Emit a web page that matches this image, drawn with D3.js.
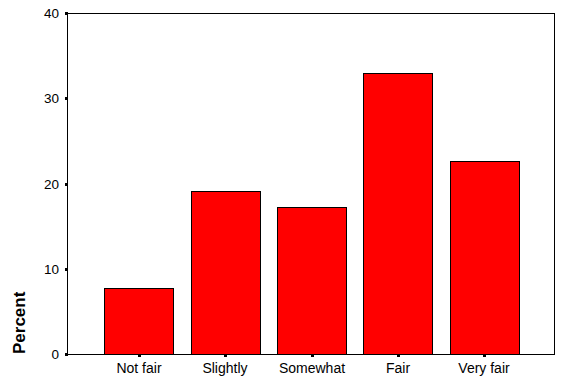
<!DOCTYPE html>
<html>
<head>
<meta charset="utf-8">
<script src="https://cdn.jsdelivr.net/npm/d3@7.9.0/dist/d3.min.js"></script>
<style>
  body { margin: 0; background: #fff; }
  svg text { font-family: Arial, "Liberation Sans", sans-serif; }
</style>
</head>
<body>
<svg id="chart" width="568" height="390"></svg>
<script>
const categories = ['Not fair', 'Slightly', 'Somewhat', 'Fair', 'Very fair'];
const percents = [7.8, 19.1, 17.3, 33.0, 22.6];
const yTicks = [0, 10, 20, 30, 40];

const svg = d3.select('#chart');
const plot = { left: 67, top: 13, right: 554, bottom: 354 };

const x = d3.scaleBand()
  .domain(categories)
  .range([plot.left + 1, plot.right + 1])
  .paddingInner(0.2)
  .paddingOuter(0.42);

const y = d3.scaleLinear().domain([0, 40]).range([plot.bottom, plot.top]);

// frame
svg.append('rect')
  .attr('x', plot.left + 0.5)
  .attr('y', plot.top + 0.5)
  .attr('width', plot.right - plot.left)
  .attr('height', plot.bottom - plot.top)
  .attr('fill', 'none')
  .attr('stroke', '#000');

// bars
svg.selectAll('rect.bar')
  .data(categories)
  .join('rect')
  .attr('class', 'bar')
  .attr('x', d => Math.round(x(d)) + 0.5)
  .attr('y', (d, i) => Math.round(y(percents[i])) + 0.5)
  .attr('width', Math.round(x.bandwidth()))
  .attr('height', (d, i) => Math.round(y(0)) - Math.round(y(percents[i])))
  .attr('fill', '#ff0000')
  .attr('stroke', '#000');

// y ticks
const yg = svg.append('g');
yTicks.forEach(t => {
  yg.append('rect')
    .attr('x', plot.left - 2)
    .attr('y', Math.round(y(t)) - 1)
    .attr('width', 3)
    .attr('height', 3)
    .attr('fill', '#000');
  yg.append('text')
    .attr('x', plot.left - 8)
    .attr('y', Math.round(y(t)) + 5)
    .attr('text-anchor', 'end')
    .attr('font-size', 13.5)
    .text(t);
});

// x ticks
const xg = svg.append('g');
categories.forEach(c => {
  const cx = Math.round(x(c) + x.bandwidth() / 2);
  xg.append('rect')
    .attr('x', cx - 1)
    .attr('y', plot.bottom)
    .attr('width', 3)
    .attr('height', 3)
    .attr('fill', '#000');
  xg.append('text')
    .attr('x', cx)
    .attr('y', 373)
    .attr('text-anchor', 'middle')
    .attr('font-size', 14)
    .text(c);
});

// y label
svg.append('text')
  .attr('transform', `translate(25,${plot.bottom}) rotate(-90)`)
  .attr('font-size', 17)
  .attr('font-weight', 'bold')
  .text('Percent');
</script>
</body>
</html>
